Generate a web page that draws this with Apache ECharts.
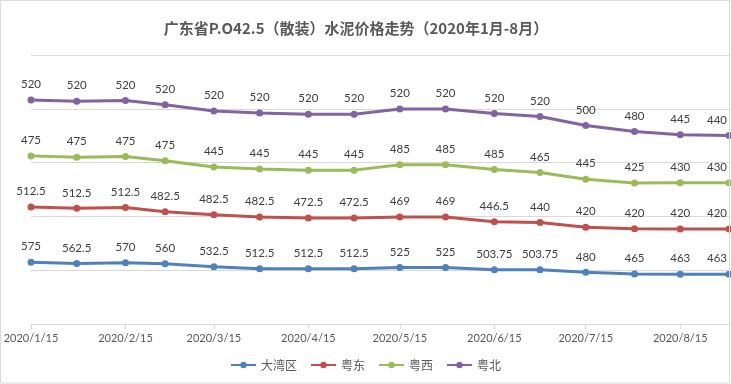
<!DOCTYPE html>
<html>
<head>
<meta charset="utf-8">
<script src="https://cdn.jsdelivr.net/npm/echarts@6/dist/echarts.min.js"></script>
<style>
html,body{margin:0;padding:0;background:#fff;}
#c{width:731px;height:384px;}
</style>
</head>
<body>
<div id="c"></div>
<script>
// ---- data ----
var dates = ['2020-01-15','2020-01-30','2020-02-15','2020-02-28','2020-03-15','2020-03-30','2020-04-15','2020-04-30',
             '2020-05-15','2020-05-30','2020-06-15','2020-06-30','2020-07-15','2020-07-31','2020-08-15','2020-08-31'];
var tickDates = ['2020-01-15','2020-02-15','2020-03-15','2020-04-15','2020-05-15','2020-06-15','2020-07-15','2020-08-15'];
var seriesNames = ['大湾区','粤东','粤西','粤北'];
var dawanqu = [575, 562.5, 570, 560, 532.5, 512.5, 512.5, 512.5, 525, 525, 503.75, 503.75, 480, 465, 463, 463];
var yuedong = [512.5, 512.5, 512.5, 482.5, 482.5, 482.5, 472.5, 472.5, 469, 469, 446.5, 440, 420, 420, 420, 420];
var yuexi   = [475, 475, 475, 475, 445, 445, 445, 445, 485, 485, 485, 465, 445, 425, 430, 430];
var yuebei  = [520, 520, 520, 520, 520, 520, 520, 520, 520, 520, 520, 520, 500, 480, 445, 440];
var colors = ['#4f81bd','#c0504d','#9bbb59','#8064a2'];

// day number (days since 2020-01-01) used as x value
function toDay(s){ var p = s.split('-'); return Math.round((Date.UTC(+p[0], +p[1]-1, +p[2]) - Date.UTC(2020,0,1)) / 86400000); }
function dayLabel(v){ var d = new Date(Date.UTC(2020,0,1) + Math.round(v) * 86400000); return d.getUTCFullYear() + '/' + (d.getUTCMonth()+1) + '/' + d.getUTCDate(); }
var allVals = [dawanqu, yuedong, yuexi, yuebei];
// stacked line chart: each series sits on top of the previous ones; label shows its own value
function build(k){
  var vals = allVals[k];
  return vals.map(function(v, i){
    var base = 0;
    for (var j = 0; j < k; j++) base += allVals[j][i];
    var item = { value: [toDay(dates[i]), base + v, v] };
    if (i === vals.length - 1) item.label = { align: 'right', offset: [-2, 0] };
    return item;
  });
}

var chart = echarts.init(document.getElementById('c'));
chart.setOption({
  animation: false,
  color: colors,
  title: {
    text: '广东省P.O42.5（散装）水泥价格走势（2020年1月-8月）',
    left: 356, textAlign: 'center', top: 21, padding: 0,
    textStyle: { fontFamily: 'Noto Sans CJK SC', fontWeight: 'bold', fontSize: 15, color: '#595959' }
  },
  legend: {
    data: seriesNames, bottom: 13, left: 'center', padding: 0,
    itemWidth: 25, itemHeight: 8, itemGap: 13,
    textStyle: { fontFamily: 'Noto Sans CJK SC', fontSize: 12, color: '#595959' }
  },
  grid: { left: 31, right: 2, top: 55, bottom: 60, containLabel: false },
  xAxis: {
    type: 'value',
    min: toDay(dates[0]), max: toDay(dates[dates.length - 1]),
    axisLine: { lineStyle: { color: '#d9d9d9', width: 1 } },
    axisTick: { show: true, length: 5, lineStyle: { color: '#d9d9d9' }, customValues: tickDates.map(toDay) },
    axisLabel: {
      customValues: tickDates.map(toDay), margin: 9,
      fontFamily: 'Lato', fontSize: 11, color: '#595959',
      formatter: function(v){ return dayLabel(v); }
    },
    splitLine: { show: false }
  },
  yAxis: {
    type: 'value', min: 0, max: 2500, interval: 500,
    axisLabel: { show: false }, axisLine: { show: false }, axisTick: { show: false },
    splitLine: { lineStyle: { color: '#d9d9d9', width: 1 } }
  },
  graphic: [{
    type: 'rect', silent: true, z: 100,
    shape: { x: 0.5, y: 0.5, width: 729, height: 382.5 },
    style: { fill: 'none', stroke: '#d9d9d9', lineWidth: 1 }
  }],
  series: seriesNames.map(function(name, k){
    return {
      name: name, type: 'line',
      data: build(k),
      encode: { x: 0, y: 1 },
      symbol: 'circle', symbolSize: 7,
      lineStyle: { width: 3, color: colors[k] },
      itemStyle: { color: colors[k] },
      label: { show: true, position: 'top', distance: 6, fontFamily: 'Lato', fontSize: 11.5, color: '#404040',
               formatter: function(p){ return p.value[2]; } }
    };
  })
});
</script>
</body>
</html>
